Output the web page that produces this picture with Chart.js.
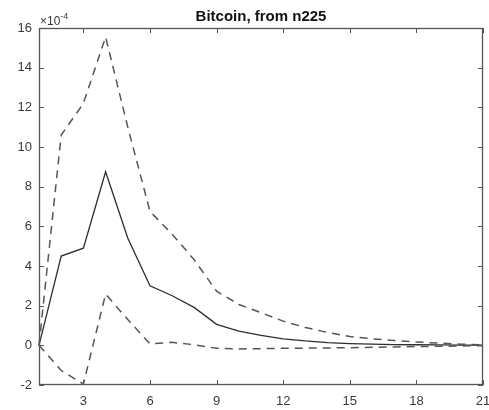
<!DOCTYPE html>
<html lang="en">
  <head>
    <meta charset="UTF-8">
    <title>Bitcoin, from n225</title>
    <script src="https://cdn.jsdelivr.net/npm/chart.js@4/dist/chart.umd.min.js"></script>
    <style>
      html, body { margin: 0; padding: 0; background: #fff; overflow: hidden; }
      #wrap { width: 489px; height: 410px; }
    </style>
  </head>
  <body>
    <div id="wrap"><canvas id="irf"></canvas></div>
    <script>
      // response in units of 1e-4
      const periods = [1, 2, 3, 4, 5, 6, 7, 8, 9, 10, 11, 12, 13, 14, 15, 16, 17, 18, 19, 20, 21]
      const response = [0, 4.5, 4.9, 8.75, 5.4, 3.0, 2.5, 1.9, 1.06, 0.72, 0.5, 0.33, 0.22, 0.14, 0.09, 0.06, 0.04, 0.03, 0.02, 0.01, 0.01]
      const upperBand = [0, 10.6, 12.2, 15.55, 11.0, 6.75, 5.6, 4.3, 2.73, 2.06, 1.65, 1.22, 0.9, 0.65, 0.44, 0.33, 0.24, 0.17, 0.11, 0.06, 0.02]
      const lowerBand = [0, -1.27, -1.95, 2.58, 1.3, 0.07, 0.15, 0.03, -0.15, -0.18, -0.17, -0.15, -0.14, -0.13, -0.12, -0.1, -0.08, -0.06, -0.05, -0.03, -0.02]
      const xTicks = [3, 6, 9, 12, 15, 18, 21]
      const title = 'Bitcoin, from n225'

      const axisColor = '#555'
      const textColor = '#3a3a3a'
      const font = 'Liberation Sans, Arial, sans-serif'

      const toPoints = vals => periods.map((p, i) => ({ x: p, y: vals[i] }))

      // box, inward ticks, title and exponent label
      const matlabAxes = {
        id: 'matlabAxes',
        afterDraw(chart) {
          const { ctx, chartArea: a, scales } = chart
          ctx.save()
          ctx.strokeStyle = axisColor
          ctx.lineWidth = 1.3
          ctx.strokeRect(a.left + 0.5, a.top + 0.5, a.right - a.left - 1, a.bottom - a.top - 1)
          ctx.lineWidth = 1
          ctx.beginPath()
          for (const t of scales.x.ticks) {
            const px = Math.round(scales.x.getPixelForValue(t.value)) + 0.5
            ctx.moveTo(px, a.bottom); ctx.lineTo(px, a.bottom - 5)
            ctx.moveTo(px, a.top); ctx.lineTo(px, a.top + 5)
          }
          for (const t of scales.y.ticks) {
            const py = Math.round(scales.y.getPixelForValue(t.value)) + 0.5
            ctx.moveTo(a.left, py); ctx.lineTo(a.left + 5, py)
            ctx.moveTo(a.right, py); ctx.lineTo(a.right - 5, py)
          }
          ctx.stroke()

          ctx.fillStyle = '#111'
          ctx.font = 'bold 15px ' + font
          ctx.textAlign = 'center'
          ctx.textBaseline = 'alphabetic'
          ctx.fillText(title, (a.left + a.right) / 2, 21)

          ctx.fillStyle = textColor
          ctx.textAlign = 'left'
          ctx.font = '12px ' + font
          ctx.fillText('\u00d710', a.left + 1, 25)
          const w = ctx.measureText('\u00d710').width
          ctx.font = '9px ' + font
          ctx.fillText('-4', a.left + 1 + w, 19)
          ctx.restore()
        }
      }

      new Chart(document.getElementById('irf'), {
        type: 'line',
        data: {
          datasets: [
            { data: toPoints(upperBand), borderColor: '#555', borderWidth: 1.5, borderDash: [8, 6] },
            { data: toPoints(lowerBand), borderColor: '#555', borderWidth: 1.5, borderDash: [8, 6] },
            { data: toPoints(response), borderColor: '#2e2e2e', borderWidth: 1.3 },
          ]
        },
        options: {
          responsive: true,
          maintainAspectRatio: false,
          animation: false,
          clip: false,
          elements: { point: { radius: 0 }, line: { tension: 0 } },
          layout: { padding: { top: 28, right: 0, left: 0, bottom: 0 } },
          plugins: { legend: { display: false }, tooltip: { enabled: false } },
          scales: {
            x: {
              type: 'linear', min: 1, max: 21,
              afterBuildTicks: s => { s.ticks = xTicks.map(v => ({ value: v })) },
              afterFit: s => { s.height = 25; s.paddingRight = 6; s.paddingLeft = 0 },
              grid: { display: false, drawTicks: false },
              border: { display: false },
              ticks: { color: textColor, font: { family: font, size: 13 }, padding: 9, maxRotation: 0 }
            },
            y: {
              min: -2, max: 16,
              afterFit: s => { s.width = 39; s.paddingTop = 0; s.paddingBottom = 0 },
              grid: { display: false, drawTicks: false },
              border: { display: false },
              ticks: { stepSize: 2, color: textColor, font: { family: font, size: 13 }, padding: 7 }
            }
          }
        },
        plugins: [matlabAxes]
      })
    </script>
  </body>
</html>
